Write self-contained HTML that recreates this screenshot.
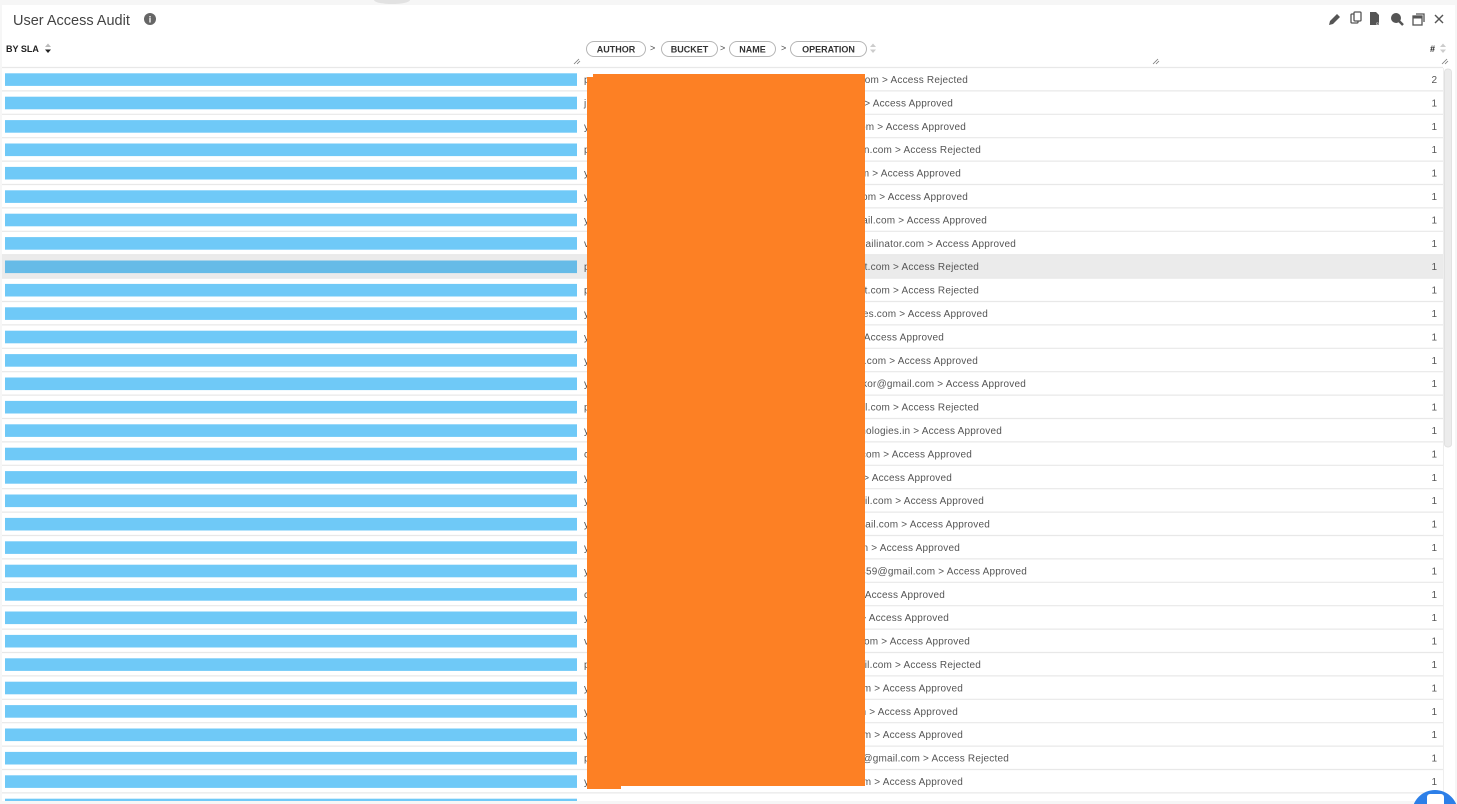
<!DOCTYPE html>
<html><head><meta charset="utf-8">
<style>
html,body{margin:0;padding:0;background:#f6f6f6;}
svg{display:block;}
text{font-family:"Liberation Sans",sans-serif;}
.r{font-size:10px;fill:#555;}
.n{font-size:10px;fill:#555;text-anchor:end;}
.e{font-size:10px;fill:#555;text-anchor:end;letter-spacing:0.2px;}
.b{fill:#6fc9f7;}
.s{stroke:#e8e8e8;stroke-width:1.2;}
.p{fill:#fff;stroke:#b5b5b5;stroke-width:1;}
.pt{font-size:9px;font-weight:bold;fill:#333;text-anchor:middle;}
</style></head>
<body>
<svg width="1457" height="804" viewBox="0 0 1457 804" xmlns="http://www.w3.org/2000/svg">
<rect x="0" y="0" width="1457" height="804" fill="#f6f6f6"/>
<ellipse cx="392" cy="0" rx="18" ry="4" fill="#e2e2e2"/>
<rect x="2" y="5" width="1453" height="799" fill="#fff"/>

<!-- title -->
<text x="13" y="25" font-size="14.5" fill="#444">User Access Audit</text>
<circle cx="150" cy="19" r="6" fill="#666"/>
<text x="150" y="22.5" font-size="9" font-weight="bold" fill="#fff" text-anchor="middle">i</text>

<!-- toolbar icons -->
<g fill="#555" stroke="#555">
<path d="M1329 25 L1330 21 L1337 14 L1340 17 L1333 24 Z" stroke="none"/>
<rect x="1351" y="14" width="7" height="9" rx="1" fill="none" stroke-width="1.3"/>
<rect x="1354" y="12" width="7" height="9" rx="1" fill="#fff" stroke-width="1.3"/>
<path d="M1370 12 L1376 12 L1379 15 L1379 25 L1370 25 Z" stroke="none"/>
<circle cx="1396" cy="18" r="5" stroke="none"/>
<line x1="1399" y1="21" x2="1403" y2="25" stroke-width="2.5"/>
<rect x="1413" y="16" width="9" height="9" fill="none" stroke-width="1.3"/>
<rect x="1413" y="16" width="9" height="2.5" stroke="none"/>
<polyline points="1416,14 1424,14 1424,22" fill="none" stroke-width="1.3"/>
<line x1="1435" y1="15" x2="1443" y2="23" stroke-width="1.4"/>
<line x1="1443" y1="15" x2="1435" y2="23" stroke-width="1.4"/>
</g>
<text x="1376" y="25" font-size="4.5" fill="#fff">csv</text>

<!-- column headers -->
<text x="6" y="52" font-size="9" font-weight="bold" fill="#222">BY SLA</text>
<path d="M45 47 L48 43.5 L51 47 Z" fill="#bbb"/>
<path d="M45 49.5 L48 53 L51 49.5 Z" fill="#222"/>

<rect class="p" x="586.5" y="41.5" width="59" height="15" rx="7.5"/>
<text class="pt" x="616" y="52.5">AUTHOR</text>
<text x="650" y="51" font-size="9" fill="#444">&gt;</text>
<rect class="p" x="661.5" y="41.5" width="56" height="15" rx="7.5"/>
<text class="pt" x="689.5" y="52.5">BUCKET</text>
<text x="720" y="51" font-size="9" fill="#444">&gt;</text>
<rect class="p" x="729.5" y="41.5" width="46" height="15" rx="7.5"/>
<text class="pt" x="752.5" y="52.5">NAME</text>
<text x="781" y="51" font-size="9" fill="#444">&gt;</text>
<rect class="p" x="790.5" y="41.5" width="76" height="15" rx="7.5"/>
<text class="pt" x="828.5" y="52.5">OPERATION</text>
<path d="M870 47 L873 43.5 L876 47 Z" fill="#ccc"/>
<path d="M870 49.5 L873 53 L876 49.5 Z" fill="#ccc"/>

<text x="1435" y="52" font-size="9" font-weight="bold" fill="#222" text-anchor="end">#</text>
<path d="M1440 47 L1443 43.5 L1446 47 Z" fill="#ccc"/>
<path d="M1440 49.5 L1443 53 L1446 49.5 Z" fill="#ccc"/>

<g stroke="#777" stroke-width="0.8">
<line x1="574" y1="64" x2="579" y2="59"/><line x1="577" y1="64" x2="580" y2="61"/>
<line x1="1153" y1="64" x2="1158" y2="59"/><line x1="1156" y1="64" x2="1159" y2="61"/>
<line x1="1442" y1="64" x2="1447" y2="59"/><line x1="1445" y1="64" x2="1448" y2="61"/>
</g>

<!-- highlighted row -->
<rect x="2" y="254.7" width="1441" height="23.4" fill="#ebebeb"/>

<!-- separators -->
<g class="s">
<line x1="2" y1="67.5" x2="1443" y2="67.5"/>
<line x1="2" y1="90.9" x2="1443" y2="90.9"/>
<line x1="2" y1="114.3" x2="1443" y2="114.3"/>
<line x1="2" y1="137.7" x2="1443" y2="137.7"/>
<line x1="2" y1="161.1" x2="1443" y2="161.1"/>
<line x1="2" y1="184.5" x2="1443" y2="184.5"/>
<line x1="2" y1="207.9" x2="1443" y2="207.9"/>
<line x1="2" y1="231.3" x2="1443" y2="231.3"/>
<line x1="2" y1="254.7" x2="1443" y2="254.7"/>
<line x1="2" y1="278.1" x2="1443" y2="278.1"/>
<line x1="2" y1="301.5" x2="1443" y2="301.5"/>
<line x1="2" y1="324.9" x2="1443" y2="324.9"/>
<line x1="2" y1="348.3" x2="1443" y2="348.3"/>
<line x1="2" y1="371.7" x2="1443" y2="371.7"/>
<line x1="2" y1="395.1" x2="1443" y2="395.1"/>
<line x1="2" y1="418.5" x2="1443" y2="418.5"/>
<line x1="2" y1="441.9" x2="1443" y2="441.9"/>
<line x1="2" y1="465.3" x2="1443" y2="465.3"/>
<line x1="2" y1="488.7" x2="1443" y2="488.7"/>
<line x1="2" y1="512.1" x2="1443" y2="512.1"/>
<line x1="2" y1="535.5" x2="1443" y2="535.5"/>
<line x1="2" y1="558.9" x2="1443" y2="558.9"/>
<line x1="2" y1="582.3" x2="1443" y2="582.3"/>
<line x1="2" y1="605.7" x2="1443" y2="605.7"/>
<line x1="2" y1="629.1" x2="1443" y2="629.1"/>
<line x1="2" y1="652.5" x2="1443" y2="652.5"/>
<line x1="2" y1="675.9" x2="1443" y2="675.9"/>
<line x1="2" y1="699.3" x2="1443" y2="699.3"/>
<line x1="2" y1="722.7" x2="1443" y2="722.7"/>
<line x1="2" y1="746.1" x2="1443" y2="746.1"/>
<line x1="2" y1="769.5" x2="1443" y2="769.5"/>
<line x1="2" y1="792.9" x2="1443" y2="792.9"/>
</g>

<!-- bars -->
<g class="b">
<rect x="5" y="73.3" width="572" height="12.6"/>
<rect x="5" y="96.7" width="572" height="12.6"/>
<rect x="5" y="120.1" width="572" height="12.6"/>
<rect x="5" y="143.5" width="572" height="12.6"/>
<rect x="5" y="166.9" width="572" height="12.6"/>
<rect x="5" y="190.3" width="572" height="12.6"/>
<rect x="5" y="213.7" width="572" height="12.6"/>
<rect x="5" y="237.1" width="572" height="12.6"/>
<rect x="5" y="260.5" width="572" height="12.6" fill="#66bbe7"/>
<rect x="5" y="283.9" width="572" height="12.6"/>
<rect x="5" y="307.3" width="572" height="12.6"/>
<rect x="5" y="330.7" width="572" height="12.6"/>
<rect x="5" y="354.1" width="572" height="12.6"/>
<rect x="5" y="377.5" width="572" height="12.6"/>
<rect x="5" y="400.9" width="572" height="12.6"/>
<rect x="5" y="424.3" width="572" height="12.6"/>
<rect x="5" y="447.7" width="572" height="12.6"/>
<rect x="5" y="471.1" width="572" height="12.6"/>
<rect x="5" y="494.5" width="572" height="12.6"/>
<rect x="5" y="517.9" width="572" height="12.6"/>
<rect x="5" y="541.3" width="572" height="12.6"/>
<rect x="5" y="564.7" width="572" height="12.6"/>
<rect x="5" y="588.1" width="572" height="12.6"/>
<rect x="5" y="611.5" width="572" height="12.6"/>
<rect x="5" y="634.9" width="572" height="12.6"/>
<rect x="5" y="658.3" width="572" height="12.6"/>
<rect x="5" y="681.7" width="572" height="12.6"/>
<rect x="5" y="705.1" width="572" height="12.6"/>
<rect x="5" y="728.5" width="572" height="12.6"/>
<rect x="5" y="751.9" width="572" height="12.6"/>
<rect x="5" y="775.3" width="572" height="12.6"/>
<rect x="5" y="798.7" width="572" height="12.6"/>
</g>

<!-- left partial letters -->
<g class="r">
<text x="584" y="83">p</text><text x="584" y="106.4">j</text><text x="584" y="129.8">y</text><text x="584" y="153.2">p</text>
<text x="584" y="176.6">y</text><text x="584" y="200">y</text><text x="584" y="223.4">y</text><text x="584" y="246.8">v</text>
<text x="584" y="270.2">p</text><text x="584" y="293.6">p</text><text x="584" y="317">y</text><text x="584" y="340.4">y</text>
<text x="584" y="363.8">y</text><text x="584" y="387.2">y</text><text x="584" y="410.6">p</text><text x="584" y="434">y</text>
<text x="584" y="457.4">c</text><text x="584" y="480.8">y</text><text x="584" y="504.2">y</text><text x="584" y="527.6">y</text>
<text x="584" y="551">y</text><text x="584" y="574.4">y</text><text x="584" y="597.8">c</text><text x="584" y="621.2">y</text>
<text x="584" y="644.6">v</text><text x="584" y="668">p</text><text x="584" y="691.4">y</text><text x="584" y="714.8">y</text>
<text x="584" y="738.2">y</text><text x="584" y="761.6">p</text><text x="584" y="785">y</text>
</g>

<!-- right fragments -->
<g class="e">
<text x="968" y="83">ocom &gt; Access Rejected</text>
<text x="953" y="106.4">om &gt; Access Approved</text>
<text x="966" y="129.8">com &gt; Access Approved</text>
<text x="981" y="153.2">ain.com &gt; Access Rejected</text>
<text x="961" y="176.6">com &gt; Access Approved</text>
<text x="968" y="200">com &gt; Access Approved</text>
<text x="987" y="223.4">gmail.com &gt; Access Approved</text>
<text x="1016" y="246.8">mailinator.com &gt; Access Approved</text>
<text x="979" y="270.2">ent.com &gt; Access Rejected</text>
<text x="979" y="293.6">ent.com &gt; Access Rejected</text>
<text x="988" y="317">gies.com &gt; Access Approved</text>
<text x="944" y="340.4">om &gt; Access Approved</text>
<text x="978" y="363.8">il.com &gt; Access Approved</text>
<text x="1026" y="387.2">ekor@gmail.com &gt; Access Approved</text>
<text x="979" y="410.6">ail.com &gt; Access Rejected</text>
<text x="1002" y="434">hnologies.in &gt; Access Approved</text>
<text x="972" y="457.4">.com &gt; Access Approved</text>
<text x="952" y="480.8">om &gt; Access Approved</text>
<text x="984" y="504.2">mail.com &gt; Access Approved</text>
<text x="990" y="527.6">gmail.com &gt; Access Approved</text>
<text x="960" y="551">com &gt; Access Approved</text>
<text x="1027" y="574.4">1459@gmail.com &gt; Access Approved</text>
<text x="945" y="597.8">om &gt; Access Approved</text>
<text x="949" y="621.2">om &gt; Access Approved</text>
<text x="970" y="644.6">.com &gt; Access Approved</text>
<text x="981" y="668">mail.com &gt; Access Rejected</text>
<text x="963" y="691.4">com &gt; Access Approved</text>
<text x="958" y="714.8">om &gt; Access Approved</text>
<text x="963" y="738.2">com &gt; Access Approved</text>
<text x="1009" y="761.6">21@gmail.com &gt; Access Rejected</text>
<text x="963" y="785">com &gt; Access Approved</text>
</g>

<!-- counts -->
<g class="n">
<text x="1437" y="83">2</text><text x="1437" y="106.4">1</text><text x="1437" y="129.8">1</text><text x="1437" y="153.2">1</text>
<text x="1437" y="176.6">1</text><text x="1437" y="200">1</text><text x="1437" y="223.4">1</text><text x="1437" y="246.8">1</text>
<text x="1437" y="270.2">1</text><text x="1437" y="293.6">1</text><text x="1437" y="317">1</text><text x="1437" y="340.4">1</text>
<text x="1437" y="363.8">1</text><text x="1437" y="387.2">1</text><text x="1437" y="410.6">1</text><text x="1437" y="434">1</text>
<text x="1437" y="457.4">1</text><text x="1437" y="480.8">1</text><text x="1437" y="504.2">1</text><text x="1437" y="527.6">1</text>
<text x="1437" y="551">1</text><text x="1437" y="574.4">1</text><text x="1437" y="597.8">1</text><text x="1437" y="621.2">1</text>
<text x="1437" y="644.6">1</text><text x="1437" y="668">1</text><text x="1437" y="691.4">1</text><text x="1437" y="714.8">1</text>
<text x="1437" y="738.2">1</text><text x="1437" y="761.6">1</text><text x="1437" y="785">1</text>
</g>

<!-- orange redaction -->
<path d="M593 74 L865 74 L865 786 L621 786 L621 789 L587 789 L587 77 L593 77 Z" fill="#fd8024"/>

<!-- scrollbar -->
<line x1="1443.5" y1="68" x2="1443.5" y2="800" stroke="#eeeeee" stroke-width="1"/>
<rect x="1444.5" y="69" width="7" height="378" rx="3" fill="#ececec" stroke="#dcdcdc" stroke-width="0.8"/>

<!-- bottom strip -->
<rect x="0" y="801" width="1457" height="3" fill="#f6f6f6"/>

<!-- chat button -->
<circle cx="1435" cy="813" r="23" fill="#2c7fe8"/>
<rect x="1427" y="794" width="17" height="14" rx="3" fill="#fff"/>
</svg>
</body></html>
